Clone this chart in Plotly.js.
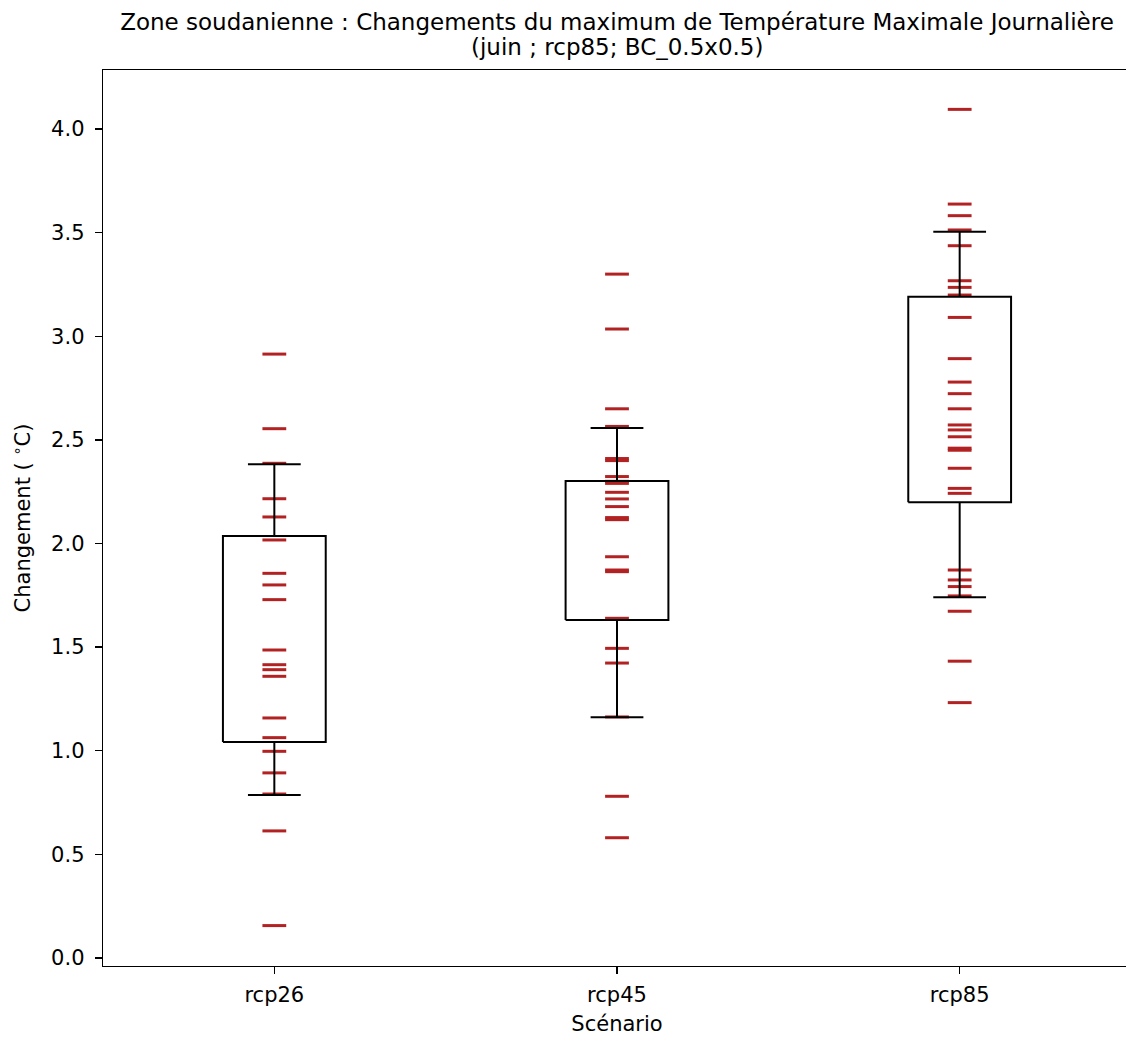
<!DOCTYPE html>
<html>
<head>
<meta charset="utf-8">
<script src="https://cdn.plot.ly/plotly-3.0.1.min.js"></script>
<style>
html, body { margin: 0; padding: 0; overflow: hidden; background: #fff; }
#chart { width: 1134px; height: 1038px; }
</style>
</head>
<body>
<div id="chart"></div>
<script>
// ---- data ----
const scenarios = ["rcp26", "rcp45", "rcp85"];

const values_rcp26 = [0.156, 0.613, 0.791, 0.893, 0.997, 1.063, 1.158, 1.359, 1.391, 1.415,
  1.486, 1.729, 1.800, 1.856, 2.017, 2.128, 2.216, 2.387, 2.554, 2.914];
const values_rcp45 = [0.580, 0.780, 1.163, 1.423, 1.494, 1.639, 1.864, 1.872, 1.936, 2.115,
  2.125, 2.178, 2.215, 2.247, 2.290, 2.300, 2.323, 2.400, 2.410, 2.565, 2.650, 3.035, 3.300];
const values_rcp85 = [1.232, 1.432, 1.673, 1.747, 1.792, 1.824, 1.872, 2.242, 2.266, 2.363,
  2.450, 2.460, 2.515, 2.548, 2.572, 2.650, 2.723, 2.779, 2.892, 3.091, 3.199, 3.236, 3.268,
  3.437, 3.513, 3.582, 3.638, 4.095];

const boxQ1 = [1.042, 1.631, 2.199];
const boxQ3 = [2.036, 2.302, 3.191];
const whiskerLow = [0.786, 1.161, 1.740];
const whiskerHigh = [2.382, 2.557, 3.505];

const yTickVals = [0.0, 0.5, 1.0, 1.5, 2.0, 2.5, 3.0, 3.5, 4.0];

const titleLine1 = "Zone soudanienne : Changements du maximum de Température Maximale Journalière";
const titleLine2 = "(juin ; rcp85; BC_0.5x0.5)";

// ---- style ----
const FONT = "DejaVu Sans, sans-serif";
const TXT = "#000000";
const RED = "#b22222";
const BOX_HALF = 0.15;
const CAP_HALF = 0.077;
const LBL = 21;

const allValues = [values_rcp26, values_rcp45, values_rcp85];

const traces = [];
allValues.forEach((vals, i) => {
  traces.push({
    type: "scatter",
    mode: "markers",
    x: vals.map(() => i + 1),
    y: vals,
    marker: { symbol: "line-ew", size: 17, line: { color: RED, width: 3 }, color: RED },
    showlegend: false,
    hoverinfo: "y"
  });
});

// boxes and whiskers built from the quartile arrays
const bx = [], by = [];
scenarios.forEach((s, i) => {
  const c = i + 1;
  bx.push(c - BOX_HALF, c + BOX_HALF, c + BOX_HALF, c - BOX_HALF, c - BOX_HALF, null);
  by.push(boxQ1[i], boxQ1[i], boxQ3[i], boxQ3[i], boxQ1[i], null);
  bx.push(c, c, null, c, c, null);
  by.push(boxQ1[i], whiskerLow[i], null, boxQ3[i], whiskerHigh[i], null);
  bx.push(c - CAP_HALF, c + CAP_HALF, null, c - CAP_HALF, c + CAP_HALF, null);
  by.push(whiskerLow[i], whiskerLow[i], null, whiskerHigh[i], whiskerHigh[i], null);
});
traces.push({
  type: "scatter",
  mode: "lines",
  x: bx,
  y: by,
  line: { color: "#000000", width: 2 },
  showlegend: false,
  hoverinfo: "skip",
  connectgaps: false
});

const layout = {
  width: 1134,
  height: 1038,
  margin: { l: 103, r: 3, t: 70, b: 72 },
  paper_bgcolor: "#ffffff",
  plot_bgcolor: "#ffffff",
  font: { family: FONT, color: TXT, size: LBL },
  title: {
    text: titleLine1,
    font: { family: FONT, size: 23, color: TXT },
    x: 0.5,
    xref: "paper",
    xanchor: "center",
    y: 1 - 14 / 1038,
    yref: "container",
    yanchor: "top"
  },
  annotations: [{
    text: titleLine2,
    xref: "paper",
    yref: "paper",
    x: 0.5,
    y: 1 + 23 / 896,
    xanchor: "center",
    yanchor: "middle",
    showarrow: false,
    font: { family: FONT, size: 23, color: TXT }
  }],
  xaxis: {
    range: [0.5, 3.5],
    tickmode: "array",
    tickvals: [1, 2, 3],
    ticktext: scenarios,
    showgrid: false,
    zeroline: false,
    showline: true,
    linecolor: "#000000",
    linewidth: 1.3,
    mirror: true,
    ticks: "outside",
    ticklen: 7,
    tickwidth: 1.3,
    tickcolor: "#000000",
    ticklabelstandoff: 2,
    tickfont: { family: FONT, size: LBL, color: TXT },
    title: { text: "Scénario", font: { family: FONT, size: LBL, color: TXT }, standoff: 10 }
  },
  yaxis: {
    range: [-0.039, 4.285],
    tickmode: "array",
    tickvals: yTickVals,
    ticktext: yTickVals.map(v => v.toFixed(1)),
    showgrid: false,
    zeroline: false,
    showline: true,
    linecolor: "#000000",
    linewidth: 1.3,
    mirror: true,
    ticks: "outside",
    ticklen: 7,
    tickwidth: 1.3,
    tickcolor: "#000000",
    ticklabelstandoff: 6,
    tickfont: { family: FONT, size: LBL, color: TXT },
    title: { text: "Changement ( <sup>∘</sup>C)", font: { family: FONT, size: LBL, color: TXT }, standoff: 14 }
  }
};

Plotly.newPlot("chart", traces, layout, { displayModeBar: false, staticPlot: true });
</script>
</body>
</html>
